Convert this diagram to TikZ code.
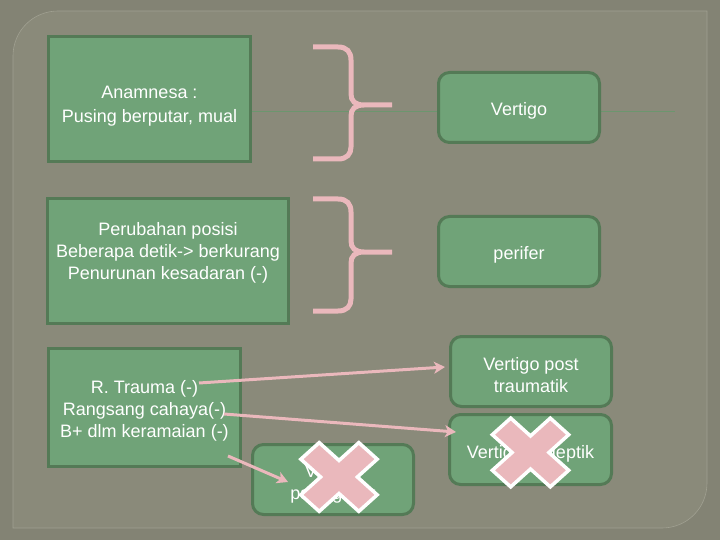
\documentclass[tikz,border=0pt]{standalone}
\usepackage{fontspec}
\setmainfont{Liberation Sans}
\usetikzlibrary{arrows.meta}
\definecolor{outbg}{RGB}{131,131,116}
\definecolor{inbg}{RGB}{138,138,122}
\definecolor{framec}{RGB}{160,160,145}
\definecolor{grn}{RGB}{112,163,120}
\definecolor{bdr}{RGB}{84,122,86}
\definecolor{pinkc}{RGB}{234,184,188}
\definecolor{thinline}{RGB}{108,150,110}
\tikzset{
  sqbox/.style={draw=bdr, fill=grn, line width=3pt, inner sep=0pt},
  rdbox/.style={sqbox, rounded corners=11pt},
  lbl/.style={text=white, align=center, inner sep=0pt, font=\fontsize{18}{22}\selectfont},
  brace/.style={draw=pinkc, line width=5pt},
  parrow/.style={draw=pinkc, line width=3pt, -{Stealth[length=11pt,width=12pt,inset=3pt]}},
  xmark/.style={fill=pinkc, draw=white, line width=3.5pt, line join=miter}
}
\newcommand{\crossmark}[2]{%
  \begin{scope}[shift={(#1,#2)}, yscale=0.9, rotate=45]
    \path[xmark] (13,13) -- (13,41) -- (-13,41) -- (-13,13) -- (-41,13) -- (-41,-13)
      -- (-13,-13) -- (-13,-41) -- (13,-41) -- (13,-13) -- (41,-13) -- (41,13) -- cycle;
  \end{scope}}
\begin{document}
\begin{tikzpicture}[x=1pt,y=-1pt]
\useasboundingbox (0,0) rectangle (720,540);
\fill[outbg] (0,0) rectangle (720,540);
\filldraw[fill=inbg, draw=framec, line width=0.6pt]
  (13,528) -- (13,56) .. controls (13,31) and (33,11) .. (58,11) -- (707,11)
  -- (707,483) .. controls (707,508) and (687,528) .. (662,528) -- cycle;

% thin green guide line
\coordinate (gl1) at (252,112);
\coordinate (gl2) at (675,112);
\draw[thinline, line width=1pt] (gl1) -- (gl2);

% left boxes
\node[sqbox, minimum width=202pt, minimum height=125pt] (b1) at (149.5,99) {};
\node[lbl, font=\fontsize{18}{24}\selectfont] (t1) at (149.5,106) {Anamnesa :\\Pusing berputar, mual};

\node[sqbox, minimum width=241pt, minimum height=125pt] (b2) at (168,261) {};
\node[lbl] (t2) at (168,253) {Perubahan posisi\\Beberapa detik-> berkurang\\Penurunan kesadaran (-)};

\node[sqbox, minimum width=192pt, minimum height=118pt] (b3) at (144.5,407.5) {};
\node[lbl] (t3) at (144.5,411) {R. Trauma (-)\\Rangsang cahaya(-)\\B+ dlm keramaian (-)};

% right boxes
\node[rdbox, minimum width=161pt, minimum height=70pt] (vert) at (519,107.5) {};
\node[lbl] (tv) at (519,111) {Vertigo};

\node[rdbox, minimum width=161pt, minimum height=70pt] (per) at (519,251.5) {};
\node[lbl] (tp) at (519,255) {perifer};

\node[rdbox, minimum width=161pt, minimum height=70pt] (vpt) at (531,371.5) {};
\node[lbl] (tvpt) at (531,375) {Vertigo post\\traumatik};

\node[rdbox, minimum width=162pt, minimum height=70pt] (vep) at (530.5,449.5) {};
\node[lbl] (tvep) at (530.5,454) {Vertigo epileptik};

\node[rdbox, minimum width=161pt, minimum height=70pt] (vps) at (333,479.5) {};
\node[lbl] (tvps) at (333,484) {Vertigo\\psikogenik};

% braces
\path[brace] (313,47) -- (338,47) .. controls (347,47) and (351,52) .. (351,60)
  -- (351,94) .. controls (351,101) and (355,105) .. (364,105) -- (392,105)
  -- (364,105) .. controls (355,105) and (351,109) .. (351,116)
  -- (351,147) .. controls (351,154) and (347,159) .. (338,159) -- (313,159);
\path[brace] (313,199) -- (338,199) .. controls (347,199) and (351,204) .. (351,212)
  -- (351,241) .. controls (351,248) and (355,252) .. (364,252) -- (392,252)
  -- (364,252) .. controls (355,252) and (351,256) .. (351,263)
  -- (351,299) .. controls (351,306) and (347,311) .. (338,311) -- (313,311);

% arrows
\coordinate (a1s) at (199,383);
\coordinate (a1e) at (445,367);
\coordinate (a2s) at (224,414);
\coordinate (a2e) at (456,432);
\coordinate (a3s) at (228,456);
\coordinate (a3e) at (288,482);
\draw[parrow] (a1s) -- (a1e);
\draw[parrow] (a2s) -- (a2e);
\draw[parrow] (a3s) -- (a3e);

% crosses
\crossmark{339}{477}
\crossmark{530.5}{452.5}
\end{tikzpicture}
\end{document}
